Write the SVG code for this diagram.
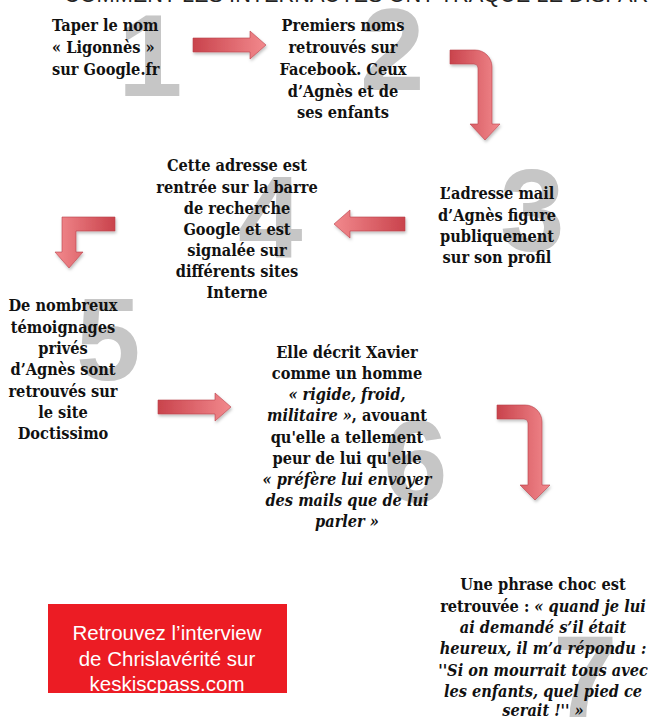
<svg xmlns="http://www.w3.org/2000/svg" width="649" height="717" viewBox="0 0 649 717">
<defs>
<linearGradient id="gh" x1="0" y1="0" x2="1" y2="0">
<stop offset="0" stop-color="#c9434c"/>
<stop offset="1" stop-color="#f2898d"/>
</linearGradient>
<linearGradient id="gh2" x1="1" y1="0" x2="0" y2="0">
<stop offset="0" stop-color="#c9434c"/>
<stop offset="1" stop-color="#f2898d"/>
</linearGradient>
<filter id="sh" x="-20%" y="-20%" width="140%" height="140%">
<feDropShadow dx="1" dy="2" stdDeviation="1.5" flood-color="#000" flood-opacity="0.25"/>
</filter>
</defs>
<style>
.t{font-family:"DejaVu Serif Condensed","DejaVu Serif",serif;font-stretch:condensed;font-weight:bold;font-size:16.2px;fill:#111;text-anchor:middle}
.l{text-anchor:start}
.i{font-style:italic}
.d{font-family:"Liberation Sans","DejaVu Sans",sans-serif;font-weight:bold;font-size:116px;fill:#c6c6c6}
.arr{fill:url(#gh);stroke:#b8404a;stroke-width:0.6;filter:url(#sh)}
.arl{fill:url(#gh2);stroke:#b8404a;stroke-width:0.6;filter:url(#sh)}
.hd{font-family:"Liberation Sans","DejaVu Sans",sans-serif;font-size:22px;fill:#222}
.w{font-family:"Liberation Sans","DejaVu Sans",sans-serif;font-size:20.5px;fill:#fff;text-anchor:middle}
</style>
<rect width="649" height="717" fill="#fff"/>
<text class="hd" x="64" y="2" textLength="600" lengthAdjust="spacingAndGlyphs">COMMENT LES INTERNAUTES ONT TRAQUÉ LE DISPARU</text>

<g id="n1">
<text class="d" x="118" y="96">1</text>
<text class="t l" x="52" y="31">Taper le nom</text>
<text class="t l" x="52" y="53">« Ligonnès »</text>
<text class="t l" x="52" y="75">sur Google.fr</text>
</g>

<g id="n2">
<text class="d" x="360" y="90">2</text>
<text class="t" x="343" y="31">Premiers noms</text>
<text class="t" x="343" y="53">retrouvés sur</text>
<text class="t" x="343" y="75">Facebook. Ceux</text>
<text class="t" x="343" y="97">d’Agnès et de</text>
<text class="t" x="343" y="118">ses enfants</text>
</g>

<g id="n3">
<text class="d" x="500" y="251">3</text>
<text class="t" x="497" y="199">L’adresse mail</text>
<text class="t" x="497" y="221">d’Agnès figure</text>
<text class="t" x="497" y="242">publiquement</text>
<text class="t" x="497" y="263">sur son profil</text>
</g>

<g id="n4">
<text class="d" x="238" y="257">4</text>
<text class="t" x="237" y="171">Cette adresse est</text>
<text class="t" x="237" y="193">rentrée sur la barre</text>
<text class="t" x="237" y="214">de recherche</text>
<text class="t" x="237" y="235">Google et est</text>
<text class="t" x="237" y="256">signalée sur</text>
<text class="t" x="237" y="277">différents sites</text>
<text class="t" x="237" y="298">Interne</text>
</g>

<g id="n5">
<text class="d" x="76" y="380">5</text>
<text class="t" x="63" y="311">De nombreux</text>
<text class="t" x="63" y="333">témoignages</text>
<text class="t" x="63" y="354">privés</text>
<text class="t" x="63" y="375">d’Agnès sont</text>
<text class="t" x="63" y="397">retrouvés sur</text>
<text class="t" x="63" y="418">le site</text>
<text class="t" x="63" y="439">Doctissimo</text>
</g>

<g id="n6">
<text class="d" x="383" y="502">6</text>
<text class="t" x="347" y="358">Elle décrit Xavier</text>
<text class="t" x="347" y="379">comme un homme</text>
<text class="t i" x="347" y="400">« rigide, froid,</text>
<text class="t" x="347" y="421"><tspan class="i">militaire »</tspan>, avouant</text>
<text class="t" x="347" y="443">qu'elle a tellement</text>
<text class="t" x="347" y="464">peur de lui qu'elle</text>
<text class="t i" x="347" y="485">« préfère lui envoyer</text>
<text class="t i" x="347" y="506">des mails que de lui</text>
<text class="t i" x="347" y="527">parler »</text>
</g>

<g id="n7">
<text class="d" x="553" y="717">7</text>
<text class="t" x="543" y="590">Une phrase choc est</text>
<text class="t" x="543" y="612">retrouvée : <tspan class="i">« quand je lui</tspan></text>
<text class="t i" x="543" y="633">ai demandé s’il était</text>
<text class="t i" x="543" y="654">heureux, il m’a répondu :</text>
<text class="t i" x="543" y="676">''Si on mourrait tous avec</text>
<text class="t i" x="543" y="697">les enfants, quel pied ce</text>
<text class="t i" x="543" y="716">serait !'' »</text>
</g>

<g id="promo">
<rect x="48" y="604" width="239" height="89" fill="#ec1c24"/>
<text class="w" x="167" y="640">Retrouvez l’interview</text>
<text class="w" x="167" y="666">de Chrislavérité sur</text>
<text class="w" x="167" y="691">keskiscpass.com</text>
</g>

<g id="connectors">
<path class="arr" d="M193,38 H250 V31 L266,45 L250,59 V52 H193 Z"/>
<path class="arr" d="M450,50 H475 A17,17 0 0 1 492,67 V124 H500 L485,140 L470,124 H478 V68 A4,4 0 0 0 474,64 H450 Z"/>
<path class="arl" d="M405,217 H350 V210 L334,224 L350,238 V231 H405 Z"/>
<path class="arl" d="M115,217 H62 V252 H55 L69,268 L83,252 H76 V231 H115 Z"/>
<path class="arr" d="M158,400 H215 V393 L231,407 L215,421 V414 H158 Z"/>
<path class="arr" d="M497,405 H525 A17,17 0 0 1 542,422 V485 H550 L535,500 L520,485 H528 V423 A4,4 0 0 0 524,419 H497 Z"/>
</g>
</svg>
